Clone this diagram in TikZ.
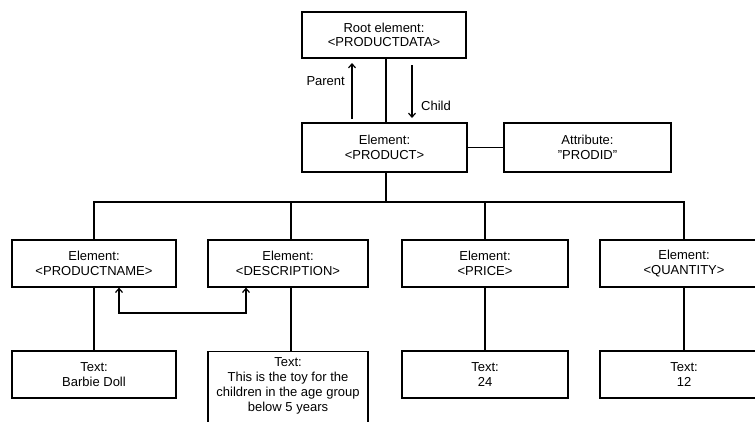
\documentclass[tikz,border=0pt]{standalone}
\usepackage{fontspec}
\setmainfont{Liberation Sans}
\usetikzlibrary{arrows.meta}
\begin{document}
\begin{tikzpicture}[x=1pt,y=-1pt,
  box/.style={draw,line width=1.2pt,align=center,inner sep=0pt,font=\fontsize{13}{14.5}\selectfont},
  conn/.style={line width=1.2pt},
  arr/.style={line width=1.2pt,-{Straight Barb[length=4pt,width=7pt,line width=1.2pt]}},
  lbl/.style={font=\fontsize{13}{14.5}\selectfont,inner sep=0pt,align=center}]
\useasboundingbox (0,0) rectangle (755,421);
\clip (0,0) rectangle (755,421);
% top
\node[box,minimum width=164,minimum height=46] (root) at (384,35) {Root element:\\<PRODUCTDATA>};
\node[box,minimum width=165,minimum height=49] (product) at (384.5,147.5) {Element:\\<PRODUCT>};
\node[box,minimum width=167,minimum height=49] (attr) at (587.5,147.5) {Attribute:\\\symbol{34}PRODID\symbol{34}};
% elements
\node[box,minimum width=164,minimum height=47] (pname) at (94,263.5) {Element:\\<PRODUCTNAME>};
\node[box,minimum width=160,minimum height=47] (desc) at (288,263.5) {Element:\\<DESCRIPTION>};
\node[box,minimum width=166,minimum height=47] (price) at (485,263.5) {Element:\\<PRICE>};
\node[box,minimum width=168,minimum height=47] (qty) at (684,263.5) {Element:\\<QUANTITY>};
% texts
\node[box,minimum width=164,minimum height=47] (pnamet) at (94,374.5) {Text:\\Barbie Doll};
\node[box,minimum width=160,minimum height=90,anchor=north] (desct) at (288,351) {};
\node[lbl,anchor=north,font=\fontsize{13}{15}\selectfont] (desctxt) at (288,357) {Text:\\This is the toy for the\\children in the age group\\below 5 years};
\node[box,minimum width=166,minimum height=47] (pricet) at (485,374.5) {Text:\\24};
\node[box,minimum width=168,minimum height=47] (qtyt) at (684,374.5) {Text:\\12};
% connectors
\draw[conn] (root.south -| 386,0) -- (product.north -| 386,0);
\coordinate (pa1) at (352,119);
\coordinate (pa2) at (352,63);
\coordinate (ch1) at (412,65);
\coordinate (ch2) at (412,118);
\draw[arr] (pa1) -- (pa2);
\draw[arr] (ch1) -- (ch2);
\node[lbl,anchor=east] (parentlbl) at (345,81) {Parent};
\node[lbl,anchor=west] (childlbl) at (421,106) {Child};
\draw[conn] (product.east) -- (attr.west);
\coordinate (bus) at (0,202);
\draw[conn] (product.south -| 386,0) -- (bus -| 386,0);
\draw[conn] (pname.north) -- (pname.north |- bus) -- (qty.north |- bus) -- (qty.north);
\draw[conn] (desc.north -| 291,0) -- (bus -| 291,0);
\draw[conn] (price.north) -- (price.north |- bus);
\draw[conn] (pname.south) -- (pnamet.north);
\draw[conn] (desc.south -| 291,0) -- (desct.north -| 291,0);
\draw[conn] (price.south) -- (pricet.north);
\draw[conn] (qty.south) -- (qtyt.north);
\coordinate (lp) at (0,313);
\draw[line width=1.2pt,{Straight Barb[length=4pt,width=7pt,line width=1.2pt]}-{Straight Barb[length=4pt,width=7pt,line width=1.2pt]}]
  (pname.south -| 119,0) -- (lp -| 119,0) -- (lp -| 246,0) -- (desc.south -| 246,0);
\end{tikzpicture}
\end{document}
